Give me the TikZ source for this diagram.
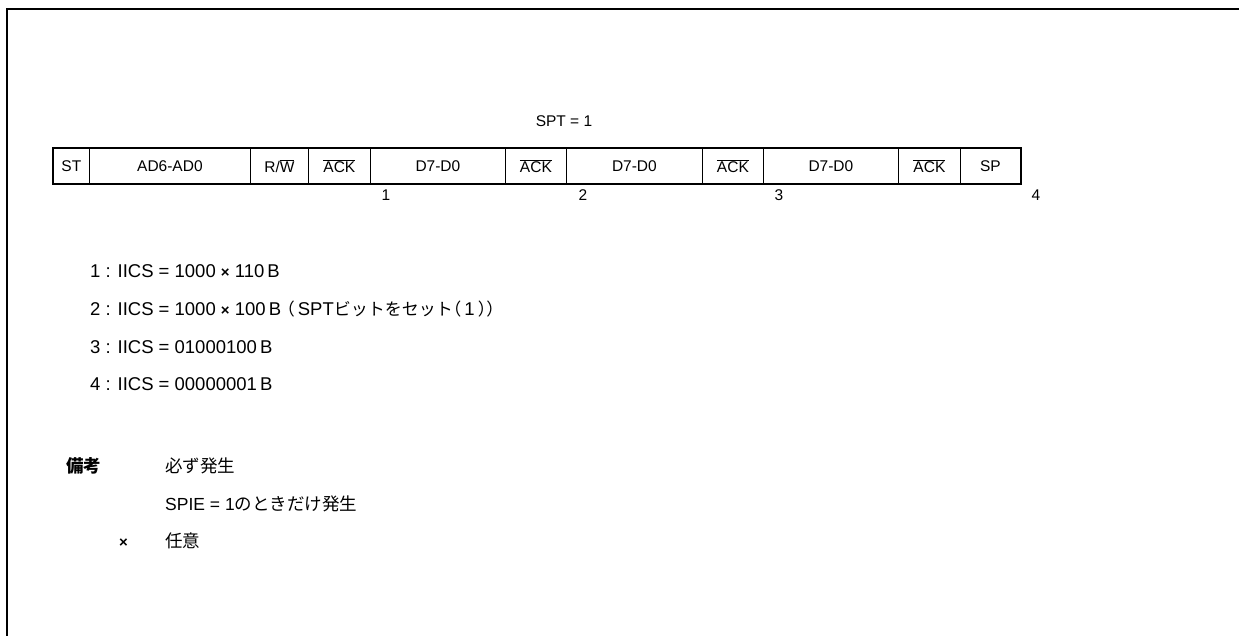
\documentclass[tikz,border=0pt]{standalone}
\usepackage{fontspec}
\setmainfont{Liberation Sans}
\newfontfamily\jp{Noto Sans CJK JP}
\newfontfamily\jph[RawFeature=+halt]{Noto Sans CJK JP}
\newcommand{\ovl}[1]{$\overline{\mbox{#1}}$}
\newcommand{\fs}{\fontsize{15.5}{19}\selectfont}
\newcommand{\fl}{\fontsize{17.5}{21}\selectfont}
\newcommand{\fli}{\fontsize{18.5}{22}\selectfont}
\newcommand{\fj}{\fontsize{17}{21}\selectfont}
\newcommand{\tms}{{\fontsize{15}{18}\selectfont\bfseries ×}}
\tikzset{
  cell/.style={draw, line width=0.8pt, minimum height=36pt, inner sep=0pt, anchor=west, font=\fs},
  txt/.style={anchor=base west, inner sep=0pt, font=\fl},
  item/.style={anchor=base west, inner sep=0pt, font=\fli},
  num/.style={anchor=base, inner sep=0pt, font=\fs}
}
\begin{document}
\begin{tikzpicture}[x=1pt,y=-1pt]
\useasboundingbox (0,0) rectangle (1239,636);
\draw[line width=2.6pt] (7,636) -- (7,9) -- (1239,9);
\node[num] (spt) at (564,127) {SPT = 1};
% table cells
\node[cell, minimum width=36pt]  (st)   at (53,166)  {ST};
\node[cell, minimum width=161pt] (ad)   at (89,166)  {AD6-AD0};
\node[cell, minimum width=58pt]  (rw)   at (250,166) {R/\ovl{W}};
\node[cell, minimum width=62pt]  (ack1) at (308,166) {\ovl{ACK}};
\node[cell, minimum width=135pt] (d1)   at (370,166) {D7-D0};
\node[cell, minimum width=61pt]  (ack2) at (505,166) {\ovl{ACK}};
\node[cell, minimum width=136pt] (d2)   at (566,166) {D7-D0};
\node[cell, minimum width=61pt]  (ack3) at (702,166) {\ovl{ACK}};
\node[cell, minimum width=135pt] (d3)   at (763,166) {D7-D0};
\node[cell, minimum width=62pt]  (ack4) at (898,166) {\ovl{ACK}};
\node[cell, minimum width=60pt]  (sp)   at (960,166) {SP};
\draw[line width=2pt] (st.north west) rectangle (sp.south east);
% interrupt points
\node[num] (n1) at (386,201) {1};
\node[num] (n2) at (583,201) {2};
\node[num] (n3) at (779,201) {3};
\node[num] (n4) at (1036,201) {4};
% list
\node[item] (l1) at (90,278) {1 : IICS = 1000 \tms{} 110\,B};
\node[item] (l2) at (90,316) {2 : IICS = 1000 \tms{} 100\,B {\fj\jph（}\,SPT{\fj\jp ビットをセット}{\fj\jph（}\,1\,{\fj\jph ））}};
\node[item] (l3) at (90,353) {3 : IICS = 01000100\,B};
\node[item] (l4) at (90,390) {4 : IICS = 00000001\,B};
% notes
\node[txt] (bk) at (66,472) {\jp\bfseries 備考};
\node[txt] (r1) at (165,472) {\jp 必ず発生};
\node[txt] (r2) at (165,510) {SPIE = 1{\jp のときだけ発生}};
\node[txt] (xm) at (119,547) {\tms};
\node[txt] (r3) at (165,547) {\jp 任意};
\end{tikzpicture}
\end{document}
